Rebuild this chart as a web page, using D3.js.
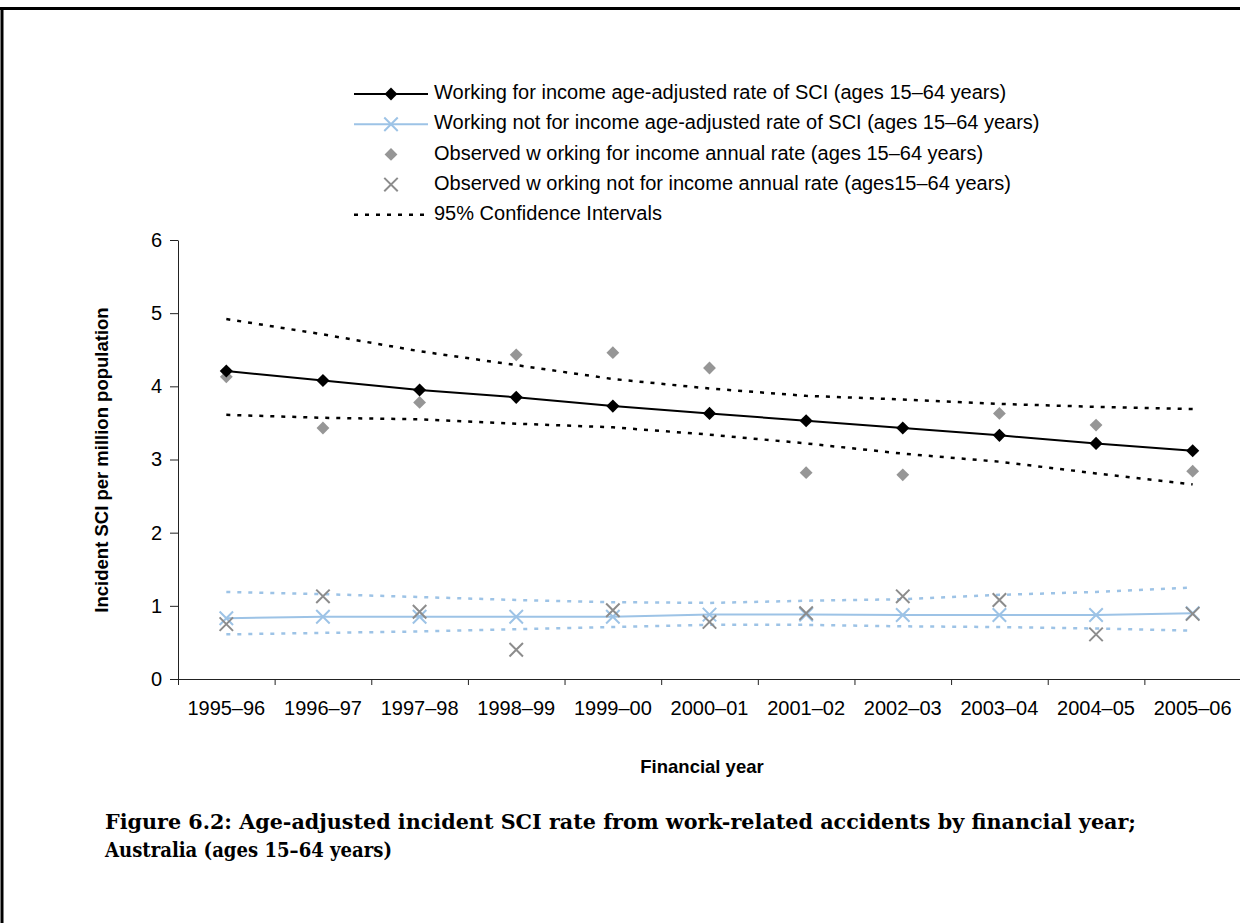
<!DOCTYPE html>
<html>
<head>
<meta charset="utf-8">
<script src="https://cdn.jsdelivr.net/npm/d3@7"></script>
<style>
  body { margin: 0; background: #fff; }
  text { fill: #000; }
</style>
</head>
<body>
<main></main>
<script>
// values
const years = ['1995–96', '1996–97', '1997–98', '1998–99', '1999–00', '2000–01',
               '2001–02', '2002–03', '2003–04', '2004–05', '2005–06']
const incomeAdj   = [4.21, 4.08, 3.95, 3.85, 3.73, 3.63, 3.53, 3.43, 3.33, 3.22, 3.12]
const incomeObs   = [4.13, 3.43, 3.78, 4.43, 4.46, 4.25, 2.82, 2.79, 3.63, 3.47, 2.84]
const incomeUpper = [4.92, 4.71, 4.48, 4.29, 4.10, 3.97, 3.87, 3.82, 3.76, 3.72, 3.69]
const incomeLower = [3.61, 3.57, 3.55, 3.49, 3.44, 3.34, 3.22, 3.08, 2.97, 2.81, 2.66]
const notIncomeAdj   = [0.83, 0.85, 0.85, 0.85, 0.85, 0.88, 0.88, 0.875, 0.875, 0.875, 0.90]
const notIncomeObs   = [0.75, 1.13, 0.92, 0.40, 0.94, 0.78, 0.90, 1.13, 1.08, 0.61, 0.89]
const notIncomeUpper = [1.19, 1.16, 1.12, 1.08, 1.05, 1.04, 1.07, 1.09, 1.15, 1.19, 1.25]
const notIncomeLower = [0.61, 0.63, 0.65, 0.68, 0.71, 0.74, 0.74, 0.72, 0.71, 0.69, 0.66]
const yTicks = [0, 1, 2, 3, 4, 5, 6]

const W = 1240, H = 923
const sans = '"Liberation Sans", Arial, sans-serif'
const blue = '#9dc3e6', grey = '#969696', greyX = '#8c8c8c'

const svg = d3.select('main').append('svg')
  .attr('width', W).attr('height', H)
  .style('font-family', sans)

// frame
svg.append('line').attr('x1', 0).attr('x2', W).attr('y1', 8.5).attr('y2', 8.5)
  .attr('stroke', '#000').attr('stroke-width', 3)
svg.append('line').attr('x1', 2).attr('x2', 2).attr('y1', 7).attr('y2', H)
  .attr('stroke', '#000').attr('stroke-width', 3)

const x = d3.scaleBand().domain(years).range([178, 1241]).padding(0)
const cx = d => x(d) + x.bandwidth() / 2
const y = d3.scaleLinear().domain([0, 6]).range([679, 240])

// axes
const xTickScale = d3.scaleLinear().domain([0, years.length]).range(x.range())
svg.append('g')
  .attr('transform', 'translate(0,679)')
  .call(d3.axisBottom(xTickScale).ticks(years.length).tickFormat('').tickSize(6).tickSizeOuter(0))
  .call(g => g.selectAll('path, line').attr('stroke', '#222'))

svg.append('g')
  .attr('transform', 'translate(0,679)')
  .call(d3.axisBottom(x).tickSize(0).tickPadding(22))
  .call(g => g.select('.domain').remove())
  .call(g => g.selectAll('text').attr('font-size', 20).style('font-family', sans))

svg.append('g')
  .attr('transform', 'translate(178,0)')
  .call(d3.axisLeft(y).tickValues(yTicks).tickFormat(d3.format('d')).tickSize(8).tickPadding(8).tickSizeOuter(0))
  .call(g => g.selectAll('path, line').attr('stroke', '#222'))
  .call(g => g.selectAll('text').attr('font-size', 20).style('font-family', sans))

svg.append('text')
  .attr('x', 702).attr('y', 768).attr('text-anchor', 'middle')
  .attr('dominant-baseline', 'middle')
  .attr('font-size', 18.5).attr('font-weight', 'bold')
  .text('Financial year')

svg.append('text')
  .attr('transform', 'translate(103,460) rotate(-90)')
  .attr('text-anchor', 'middle').attr('dominant-baseline', 'middle')
  .attr('font-size', 18.5).attr('font-weight', 'bold')
  .text('Incident SCI per million population')

const line = d3.line().x((d, i) => cx(years[i])).y(d => y(d))
const diamond = d3.symbol().type(d3.symbolDiamond2)
const cross = d3.symbol().type(d3.symbolTimes)

// confidence intervals
const ci = [
  [incomeUpper, '#000'], [incomeLower, '#000'],
  [notIncomeUpper, blue], [notIncomeLower, blue]
]
svg.append('g').selectAll('path')
  .data(ci)
  .enter().append('path')
    .attr('d', d => line(d[0]))
    .attr('fill', 'none')
    .attr('stroke', d => d[1])
    .attr('stroke-width', 2.5)
    .attr('stroke-dasharray', '4,7')

// fitted lines
svg.append('path').attr('d', line(notIncomeAdj))
  .attr('fill', 'none').attr('stroke', blue).attr('stroke-width', 2)
svg.append('path').attr('d', line(incomeAdj))
  .attr('fill', 'none').attr('stroke', '#000').attr('stroke-width', 2)

// observed points
svg.append('g').selectAll('path')
  .data(incomeObs)
  .enter().append('path')
    .attr('transform', (d, i) => `translate(${cx(years[i])},${y(d)})`)
    .attr('d', diamond.size(105))
    .attr('fill', grey)

svg.append('g').selectAll('path')
  .data(notIncomeAdj)
  .enter().append('path')
    .attr('transform', (d, i) => `translate(${cx(years[i])},${y(d)})`)
    .attr('d', cross.size(120))
    .attr('fill', 'none').attr('stroke', blue).attr('stroke-width', 2)

svg.append('g').selectAll('path')
  .data(notIncomeObs)
  .enter().append('path')
    .attr('transform', (d, i) => `translate(${cx(years[i])},${y(d)})`)
    .attr('d', cross.size(120))
    .attr('fill', 'none').attr('stroke', greyX).attr('stroke-width', 2)

svg.append('g').selectAll('path')
  .data(incomeAdj)
  .enter().append('path')
    .attr('transform', (d, i) => `translate(${cx(years[i])},${y(d)})`)
    .attr('d', diamond.size(110))
    .attr('fill', '#000')

// legend
const legendItems = [
  {label: 'Working for income age-adjusted rate of SCI (ages 15–64 years)', line: '#000', mark: 'diamond', color: '#000'},
  {label: 'Working not for income age-adjusted rate of SCI (ages 15–64 years)', line: blue, mark: 'cross', color: blue},
  {label: 'Observed w orking for income annual rate (ages 15–64 years)', line: null, mark: 'diamond', color: grey},
  {label: 'Observed w orking not for income annual rate (ages15–64 years)', line: null, mark: 'cross', color: greyX},
  {label: '95% Confidence Intervals', line: '#000', dash: true, mark: null}
]
const legend = svg.append('g')
  .selectAll('g')
  .data(legendItems)
  .enter().append('g')
    .attr('transform', (d, i) => `translate(354, ${94 + i * 30.2})`)

legend.filter(d => d.line).append('line')
  .attr('x1', 0).attr('x2', 74)
  .attr('stroke', d => d.line)
  .attr('stroke-width', d => d.dash ? 2.5 : 2)
  .attr('stroke-dasharray', d => d.dash ? '4,7' : null)

legend.filter(d => d.mark === 'diamond').append('path')
  .attr('transform', 'translate(37,0)')
  .attr('d', diamond.size(105))
  .attr('fill', d => d.color)

legend.filter(d => d.mark === 'cross').append('path')
  .attr('transform', 'translate(37,0)')
  .attr('d', cross.size(120))
  .attr('fill', 'none').attr('stroke', d => d.color).attr('stroke-width', 2)

legend.append('text')
  .attr('x', 80)
  .attr('dominant-baseline', 'middle')
  .attr('font-size', 20)
  .text(d => d.label)

// caption
const caption = [
  ['Figure 6.2: Age-adjusted incident SCI rate from work-related accidents by financial year;', 1031],
  ['Australia (ages 15–64 years)', 287]
]
svg.append('g').selectAll('text')
  .data(caption)
  .enter().append('text')
    .attr('x', 105)
    .attr('y', (d, i) => 829 + i * 28)
    .style('font-family', '"DejaVu Serif", "Liberation Serif", serif')
    .attr('font-weight', 'bold')
    .attr('font-size', 19.5)
    .attr('textLength', d => d[1])
    .attr('lengthAdjust', 'spacingAndGlyphs')
    .text(d => d[0])
</script>
</body>
</html>
